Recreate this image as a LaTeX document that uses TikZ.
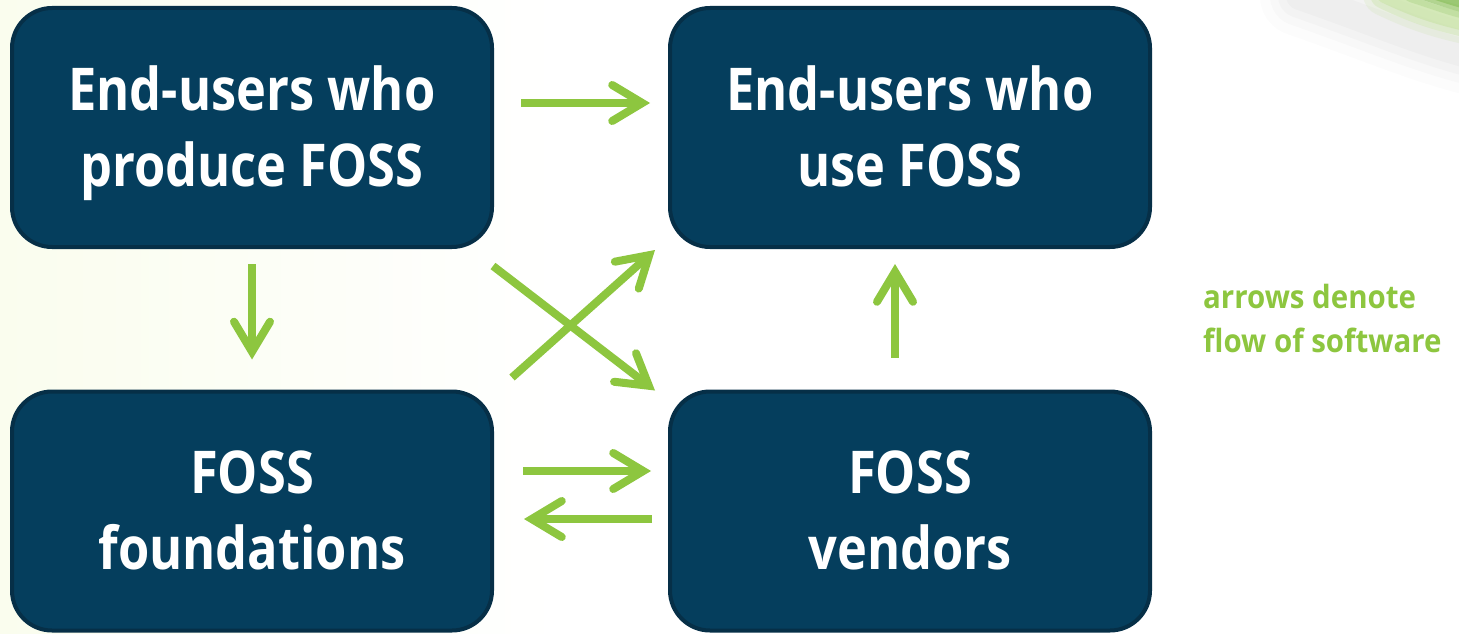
\documentclass[tikz,border=0pt]{standalone}
\usepackage{fontspec}
\setmainfont{Open Sans}[FakeStretch=0.857]
\newfontfamily\legendfont{Open Sans}[FakeStretch=0.92]
\usetikzlibrary{arrows.meta,calc}
\definecolor{boxfill}{HTML}{053E5D}
\definecolor{boxedge}{HTML}{062F47}
\definecolor{flowgreen}{HTML}{8DC63F}
\definecolor{cream}{HTML}{FAFDEE}
\definecolor{leafgreen}{HTML}{7DB84A}
\definecolor{paleleaf}{HTML}{B9DC8A}
% two-line label with fixed struts, so every label sits at the same height
\newcommand\twolines[2]{\rule{0pt}{56pt}#1\\#2\rule[-15pt]{0pt}{15pt}}

\begin{document}
\begin{tikzpicture}[x=1pt,y=-1pt,
  party/.style={draw=boxedge, line width=4pt, fill=boxfill,
    rounded corners=40pt, minimum width=480pt, minimum height=239pt,
    inner sep=0pt, text=white, align=center,
    font=\fontsize{59}{76}\selectfont\bfseries},
  flow/.style={draw=flowgreen, line width=8pt,
    -{Straight Barb[length=30pt,width=36pt,line cap=round]}}]

% canvas and soft background
\path[use as bounding box] (0,0) rectangle (1459,634);
\fill[white] (0,0) rectangle (1459,634);
\shade[left color=cream, right color=white] (0,0) rectangle (560,634);

% decorative leaf swoosh in the corner
\begin{scope}
  \clip (0,0) rectangle (1459,634);
  \foreach \w/\o in {80/0.025,60/0.03,44/0.035,28/0.04}
    \draw[gray, opacity=\o, line width=\w pt, line cap=round]
      (1300,-4) .. controls (1380,24) and (1420,42) .. (1475,56);
  \foreach \w/\o in {44/0.15,30/0.25,18/0.35}
    \draw[paleleaf, opacity=\o, line width=\w pt, line cap=round]
      (1385,-6) .. controls (1410,6) and (1435,16) .. (1475,24);
  \foreach \w/\o in {30/0.2,18/0.35,10/0.5}
    \draw[leafgreen, opacity=\o, line width=\w pt, line cap=round]
      (1415,-12) .. controls (1440,-4) and (1455,2) .. (1475,6);
\end{scope}

% the four parties
\node[party] (prod) at (252,127.5) {\twolines{End-users who}{produce FOSS}};
\node[party] (use)  at (910,127.5) {\twolines{End-users who}{use FOSS}};
\node[party] (fdn)  at (252,511)   {\twolines{FOSS}{foundations}};
\node[party] (vend) at (910,511)   {\twolines{FOSS}{vendors}};

% flows of software
\draw[flow, shorten <=27pt, shorten >=18pt]
  ([yshift=24.5pt]prod.east) -- ([yshift=24.5pt]use.west);
\draw[flow, shorten <=15pt, shorten >=30pt] (prod.south) -- (fdn.north);
\draw[flow, shorten <=32pt, shorten >=15pt]
  ([xshift=-15pt]vend.north) -- ([xshift=-15pt]use.south);
\draw[flow, shorten <=29pt, shorten >=17pt]
  ([yshift=40pt]fdn.east) -- ([yshift=40pt]vend.west);
\draw[flow, shorten <=16pt, shorten >=30pt]
  ([yshift=-8pt]vend.west) -- ([yshift=-8pt]fdn.east);
\draw[flow] ($(prod.south east)+(-1,17)$) -- ($(vend.north west)+(-13,1)$);
\draw[flow] ($(fdn.north east)+(18,-12)$) -- ($(use.south west)+(-13,1)$);

% legend
\node[anchor=north west, inner sep=0pt, align=left, text=flowgreen,
      font=\legendfont\fontsize{32}{44}\selectfont\bfseries] (legend)
  at (1203,284) {arrows denote\\flow of software};
\end{tikzpicture}
\end{document}
